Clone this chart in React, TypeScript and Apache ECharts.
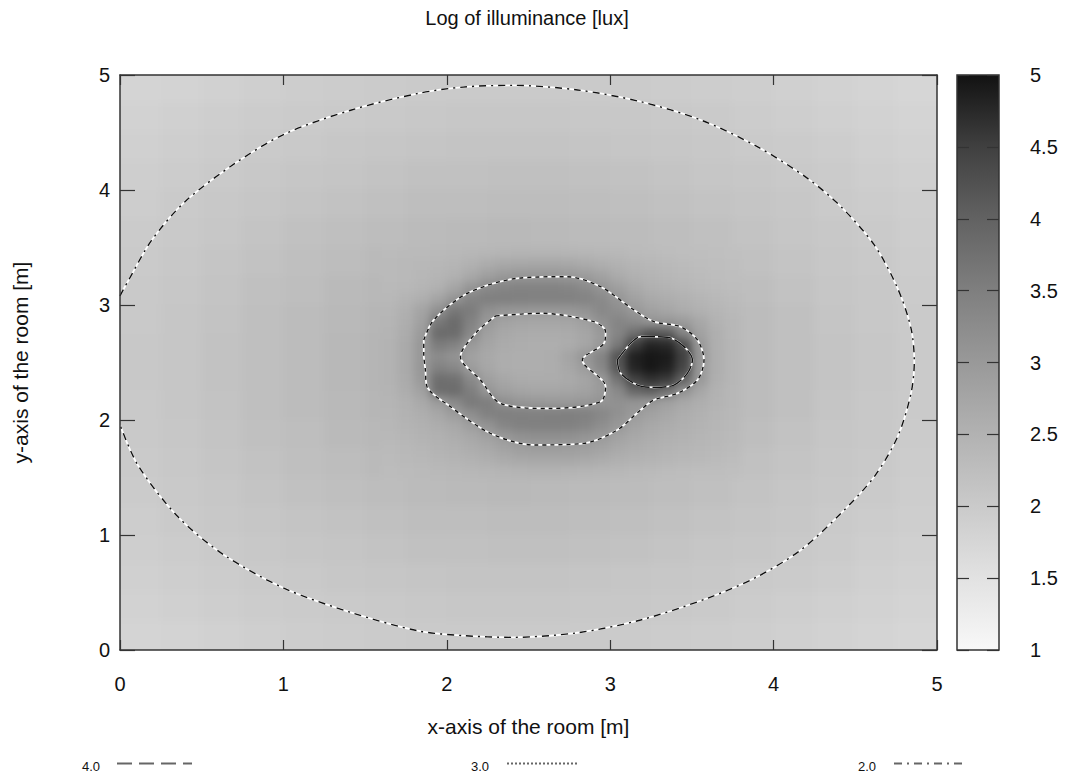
import React, { useEffect, useRef } from "react";
import * as echarts from "echarts";

// ---------- data ----------
// coarse background grid (cell centres, metres)
const bgX = [0.125, 0.375, 0.625, 0.875, 1.125, 1.375, 1.625, 1.875, 2.125, 2.375, 2.625, 2.875, 3.125, 3.375, 3.625, 3.875, 4.125, 4.375, 4.625, 4.875];
const bgY = [4.875, 4.625, 4.375, 4.125, 3.875, 3.625, 3.375, 3.125, 2.875, 2.625, 2.375, 2.125, 1.875, 1.625, 1.375, 1.125, 0.875, 0.625, 0.375, 0.125];
const bgRows = [
  [1.79, 1.82, 1.86, 1.90, 1.93, 1.95, 1.97, 1.99, 2.00, 2.01, 2.00, 2.00, 1.98, 1.96, 1.93, 1.91, 1.87, 1.84, 1.80, 1.76],
  [1.83, 1.87, 1.91, 1.95, 1.98, 2.01, 2.03, 2.05, 2.06, 2.06, 2.06, 2.05, 2.04, 2.02, 1.99, 1.96, 1.92, 1.88, 1.84, 1.80],
  [1.87, 1.91, 1.96, 2.00, 2.03, 2.06, 2.09, 2.11, 2.12, 2.13, 2.12, 2.11, 2.09, 2.07, 2.04, 2.01, 1.97, 1.93, 1.88, 1.84],
  [1.91, 1.95, 2.00, 2.04, 2.08, 2.11, 2.15, 2.18, 2.19, 2.20, 2.20, 2.18, 2.16, 2.13, 2.09, 2.06, 2.02, 1.97, 1.92, 1.87],
  [1.94, 1.99, 2.04, 2.08, 2.13, 2.17, 2.21, 2.24, 2.26, 2.27, 2.27, 2.25, 2.22, 2.19, 2.15, 2.10, 2.06, 2.01, 1.96, 1.91],
  [1.97, 2.02, 2.07, 2.12, 2.18, 2.23, 2.28, 2.31, 2.34, 2.35, 2.34, 2.32, 2.29, 2.25, 2.20, 2.14, 2.09, 2.04, 1.99, 1.93],
  [2.00, 2.05, 2.10, 2.16, 2.22, 2.28, 2.33, 2.38, 2.41, 2.42, 2.41, 2.39, 2.35, 2.30, 2.25, 2.19, 2.12, 2.07, 2.02, 1.96],
  [2.02, 2.07, 2.13, 2.20, 2.26, 2.33, 2.38, 2.43, 2.47, 2.48, 2.48, 2.45, 2.40, 2.35, 2.29, 2.25, 2.17, 2.09, 2.04, 1.98],
  [2.03, 2.08, 2.15, 2.22, 2.29, 2.36, 2.42, 2.48, 2.51, 2.53, 2.52, 2.49, 2.44, 2.38, 2.33, 2.29, 2.20, 2.11, 2.05, 1.99],
  [2.04, 2.09, 2.16, 2.23, 2.30, 2.37, 2.44, 2.50, 2.53, 2.55, 2.54, 2.51, 2.46, 2.40, 2.35, 2.30, 2.21, 2.12, 2.06, 2.00],
  [2.04, 2.09, 2.16, 2.23, 2.30, 2.37, 2.44, 2.50, 2.53, 2.55, 2.54, 2.51, 2.46, 2.40, 2.35, 2.30, 2.21, 2.12, 2.06, 2.00],
  [2.03, 2.08, 2.15, 2.22, 2.29, 2.36, 2.42, 2.48, 2.51, 2.53, 2.52, 2.49, 2.44, 2.38, 2.33, 2.29, 2.20, 2.11, 2.05, 1.99],
  [2.02, 2.07, 2.13, 2.20, 2.26, 2.33, 2.38, 2.43, 2.47, 2.48, 2.48, 2.45, 2.40, 2.35, 2.29, 2.25, 2.17, 2.09, 2.04, 1.98],
  [2.00, 2.05, 2.10, 2.16, 2.22, 2.28, 2.33, 2.38, 2.41, 2.42, 2.41, 2.39, 2.35, 2.30, 2.25, 2.19, 2.12, 2.07, 2.02, 1.96],
  [1.97, 2.02, 2.07, 2.12, 2.18, 2.23, 2.28, 2.31, 2.34, 2.35, 2.34, 2.32, 2.29, 2.25, 2.20, 2.14, 2.09, 2.04, 1.99, 1.93],
  [1.94, 1.99, 2.04, 2.08, 2.13, 2.17, 2.21, 2.24, 2.26, 2.27, 2.27, 2.25, 2.22, 2.19, 2.15, 2.10, 2.06, 2.01, 1.96, 1.91],
  [1.91, 1.95, 2.00, 2.04, 2.08, 2.11, 2.15, 2.18, 2.19, 2.20, 2.20, 2.18, 2.16, 2.13, 2.09, 2.06, 2.02, 1.97, 1.92, 1.87],
  [1.87, 1.91, 1.96, 2.00, 2.03, 2.06, 2.09, 2.11, 2.12, 2.13, 2.12, 2.11, 2.09, 2.07, 2.04, 2.01, 1.97, 1.93, 1.88, 1.84],
  [1.83, 1.87, 1.91, 1.95, 1.98, 2.01, 2.03, 2.05, 2.06, 2.06, 2.06, 2.05, 2.04, 2.02, 1.99, 1.96, 1.92, 1.88, 1.84, 1.80],
  [1.79, 1.82, 1.86, 1.90, 1.93, 1.95, 1.97, 1.99, 2.00, 2.01, 2.00, 2.00, 1.98, 1.96, 1.93, 1.91, 1.87, 1.84, 1.80, 1.76],
];

// fine grid around the ring and the lamp (cell centres, metres)
const fineX = [1.65, 1.75, 1.85, 1.95, 2.05, 2.15, 2.25, 2.35, 2.45, 2.55, 2.65, 2.75, 2.85, 2.95, 3.05, 3.15, 3.25, 3.35, 3.45, 3.55, 3.65, 3.75];
const fineY = [3.45, 3.35, 3.25, 3.15, 3.05, 2.95, 2.85, 2.75, 2.65, 2.55, 2.45, 2.35, 2.25, 2.15, 2.05, 1.95, 1.85, 1.75, 1.65, 1.55];
const fineRows = [
  [2.31, 2.33, 2.34, 2.36, 2.38, 2.40, 2.42, 2.44, 2.45, 2.45, 2.45, 2.44, 2.42, 2.40, 2.37, 2.34, 2.31, 2.28, 2.26, 2.24, 2.22, 2.20],
  [2.33, 2.35, 2.37, 2.40, 2.44, 2.52, 2.62, 2.70, 2.73, 2.74, 2.74, 2.72, 2.66, 2.58, 2.50, 2.44, 2.39, 2.35, 2.31, 2.28, 2.25, 2.22],
  [2.34, 2.36, 2.39, 2.43, 2.52, 2.68, 2.88, 3.00, 3.05, 3.06, 3.05, 3.02, 2.94, 2.82, 2.64, 2.52, 2.45, 2.40, 2.35, 2.31, 2.27, 2.24],
  [2.35, 2.38, 2.43, 2.53, 2.75, 3.05, 3.28, 3.38, 3.42, 3.42, 3.42, 3.38, 3.28, 3.08, 2.88, 2.68, 2.55, 2.47, 2.41, 2.36, 2.31, 2.27],
  [2.38, 2.45, 2.56, 2.78, 3.08, 3.40, 3.50, 3.50, 3.48, 3.46, 3.46, 3.46, 3.42, 3.28, 3.05, 2.84, 2.68, 2.60, 2.52, 2.44, 2.37, 2.31],
  [2.42, 2.55, 2.78, 3.15, 3.62, 3.55, 3.20, 3.08, 3.04, 3.02, 3.02, 3.04, 3.12, 3.32, 3.22, 3.02, 2.85, 2.74, 2.63, 2.52, 2.43, 2.36],
  [2.44, 2.58, 2.86, 3.60, 3.85, 3.45, 3.00, 2.82, 2.76, 2.74, 2.74, 2.77, 2.86, 3.15, 3.38, 3.28, 3.10, 3.05, 2.96, 2.72, 2.50, 2.39],
  [2.46, 2.62, 2.96, 3.85, 3.82, 3.30, 2.86, 2.70, 2.64, 2.62, 2.62, 2.64, 2.74, 2.98, 3.38, 3.80, 4.20, 4.10, 3.40, 2.85, 2.56, 2.40],
  [2.47, 2.66, 3.02, 3.55, 3.45, 3.00, 2.76, 2.64, 2.60, 2.58, 2.58, 2.62, 2.74, 3.00, 3.60, 4.50, 4.80, 4.75, 4.30, 3.00, 2.57, 2.41],
  [2.48, 2.67, 3.02, 3.25, 3.10, 2.84, 2.68, 2.60, 2.58, 2.58, 2.60, 2.78, 3.05, 3.40, 4.20, 4.85, 4.95, 4.90, 4.50, 3.05, 2.58, 2.42],
  [2.48, 2.67, 3.04, 3.45, 3.32, 2.94, 2.72, 2.60, 2.58, 2.58, 2.60, 2.72, 2.95, 3.32, 4.15, 4.80, 4.95, 4.85, 4.40, 3.02, 2.58, 2.42],
  [2.47, 2.65, 2.98, 3.80, 3.75, 3.30, 2.88, 2.72, 2.64, 2.62, 2.62, 2.66, 2.76, 3.00, 3.70, 4.45, 4.65, 4.55, 4.00, 3.00, 2.56, 2.41],
  [2.45, 2.60, 2.84, 3.80, 3.82, 3.50, 3.06, 2.86, 2.78, 2.75, 2.75, 2.77, 2.82, 2.98, 3.30, 3.90, 4.05, 3.75, 3.15, 2.74, 2.51, 2.39],
  [2.43, 2.53, 2.68, 2.96, 3.28, 3.58, 3.52, 3.20, 3.06, 3.02, 3.00, 3.00, 3.04, 3.10, 3.15, 3.10, 3.02, 2.86, 2.70, 2.58, 2.48, 2.39],
  [2.41, 2.49, 2.58, 2.72, 2.94, 3.22, 3.46, 3.50, 3.48, 3.46, 3.48, 3.50, 3.46, 3.34, 3.16, 2.98, 2.84, 2.72, 2.60, 2.52, 2.44, 2.37],
  [2.39, 2.45, 2.52, 2.60, 2.70, 2.90, 3.12, 3.36, 3.46, 3.48, 3.48, 3.46, 3.38, 3.22, 3.02, 2.82, 2.70, 2.62, 2.54, 2.47, 2.41, 2.36],
  [2.37, 2.42, 2.47, 2.53, 2.60, 2.70, 2.84, 3.00, 3.14, 3.18, 3.18, 3.16, 3.08, 2.98, 2.82, 2.70, 2.62, 2.55, 2.49, 2.44, 2.39, 2.34],
  [2.34, 2.38, 2.42, 2.47, 2.53, 2.60, 2.68, 2.80, 2.90, 2.94, 2.94, 2.92, 2.88, 2.80, 2.68, 2.60, 2.54, 2.48, 2.43, 2.39, 2.35, 2.31],
  [2.32, 2.35, 2.38, 2.42, 2.46, 2.51, 2.57, 2.64, 2.70, 2.73, 2.73, 2.72, 2.68, 2.62, 2.55, 2.50, 2.46, 2.42, 2.38, 2.35, 2.31, 2.28],
  [2.30, 2.32, 2.34, 2.36, 2.38, 2.40, 2.42, 2.44, 2.46, 2.47, 2.47, 2.46, 2.44, 2.42, 2.39, 2.36, 2.33, 2.30, 2.28, 2.26, 2.24, 2.22],
];

// contour lines (x, y in metres)
const contour2 = [
  [0, 3.08], [0.049, 3.207], [0.192, 3.559], [0.396, 3.896], [0.703, 4.231], [1.009, 4.488], [1.417, 4.696],
  [1.826, 4.84], [2.1, 4.895], [2.4, 4.91], [2.8, 4.87], [3.186, 4.768], [3.554, 4.609], [3.9, 4.377],
  [4.208, 4.101], [4.412, 3.855], [4.616, 3.522], [4.759, 3.145], [4.841, 2.797], [4.861, 2.507],
  [4.841, 2.232], [4.759, 1.855], [4.616, 1.507], [4.412, 1.188], [4.167, 0.87], [3.9, 0.637],
  [3.595, 0.45], [3.186, 0.261], [2.8, 0.15], [2.4, 0.11], [2.1, 0.125], [1.826, 0.166], [1.417, 0.325],
  [1.009, 0.534], [0.641, 0.822], [0.355, 1.158], [0.11, 1.606], [0, 1.958],
];
const contour3Outer = [
  [1.859, 2.696], [1.92, 2.87], [2.124, 3.1], [2.431, 3.232], [2.737, 3.246], [2.941, 3.159], [3.145, 2.957],
  [3.268, 2.855], [3.431, 2.811], [3.534, 2.696], [3.574, 2.522], [3.534, 2.348], [3.411, 2.232],
  [3.268, 2.174], [3.186, 2.087], [3.043, 1.913], [2.839, 1.797], [2.533, 1.783], [2.267, 1.884],
  [2.022, 2.116], [1.879, 2.29], [1.869, 2.435], [1.859, 2.57], [1.859, 2.696],
];
const contour3Inner = [
  [2.3, 2.905], [2.574, 2.928], [2.9, 2.855], [2.972, 2.768], [2.962, 2.667], [2.829, 2.52],
  [2.972, 2.29], [2.941, 2.159], [2.635, 2.1], [2.328, 2.145], [2.206, 2.348], [2.083, 2.55],
  [2.18, 2.76], [2.3, 2.905],
];
const contour4 = [
  [3.043, 2.522], [3.125, 2.667], [3.186, 2.725], [3.35, 2.72], [3.452, 2.638], [3.503, 2.522],
  [3.472, 2.406], [3.39, 2.304], [3.268, 2.284], [3.166, 2.304], [3.064, 2.406], [3.043, 2.522],
];
const contourLevels = ["4.0", "3.0", "2.0"];

// ---------- presentation ----------
const FONT = 'Arial, "Liberation Sans", sans-serif';
const palette = ["#f8f8f8", "#e2e2e2", "#cacaca", "#b2b2b2", "#999999", "#7f7f7f", "#626262", "#404040", "#121212"];
const GRID = { left: 120, top: 75, width: 817, height: 575 };
const AX_MIN = 0;
const AX_MAX = 5;

function cells(xs: number[], ys: number[], rows: number[][]) {
  const out: number[][] = [];
  rows.forEach((row, j) => row.forEach((v, i) => out.push([xs[i], ys[j], v])));
  return out;
}

// each cell is a rect; cells on the frame edge are stretched a little beyond it
// so that the (clipped) smoothing does not fade at the border
function cellRenderer(hw: number, hh: number) {
  return (params: any, api: any) => {
    const x = api.value(0);
    const y = api.value(1);
    const p1 = api.coord([x - hw, y + hh]);
    const p2 = api.coord([x + hw, y - hh]);
    let x1 = p1[0] - 0.4, y1 = p1[1] - 0.4, x2 = p2[0] + 0.4, y2 = p2[1] + 0.4;
    const pad = 20;
    if (x - hw <= AX_MIN + 1e-6) x1 -= pad;
    if (x + hw >= AX_MAX - 1e-6) x2 += pad;
    if (y + hh >= AX_MAX - 1e-6) y1 -= pad;
    if (y - hh <= AX_MIN + 1e-6) y2 += pad;
    return {
      type: "rect",
      shape: { x: x1, y: y1, width: x2 - x1, height: y2 - y1 },
      style: { fill: api.visual("color"), stroke: null },
    };
  };
}

function contourPair(data: number[][], dash: number[] | "solid", whiteW: number, blackW: number) {
  return [
    {
      type: "line", xAxisIndex: 0, yAxisIndex: 0, data, showSymbol: false, symbol: "none", smooth: 0.3,
      lineStyle: { color: "#ffffff", width: whiteW, type: "solid" }, silent: true, z: 5,
    },
    {
      type: "line", xAxisIndex: 0, yAxisIndex: 0, data, showSymbol: false, symbol: "none", smooth: 0.3,
      lineStyle: { color: "#111111", width: blackW, type: dash }, silent: true, z: 6,
    },
  ];
}

export default function App() {
  const heatRef = useRef<HTMLDivElement>(null);
  const mainRef = useRef<HTMLDivElement>(null);
  useEffect(() => {
    if (!heatRef.current || !mainRef.current) return;
    const heat = echarts.init(heatRef.current, undefined, { renderer: "svg" });
    const chart = echarts.init(mainRef.current, undefined, { renderer: "svg" });
    const axisCol = "#333333";

    heat.setOption({
      animation: false,
      grid: [GRID],
      xAxis: [{ type: "value", min: AX_MIN, max: AX_MAX, show: false }],
      yAxis: [{ type: "value", min: AX_MIN, max: AX_MAX, show: false }],
      visualMap: {
        type: "continuous", show: false, min: 1, max: 5, dimension: 2, seriesIndex: [0, 1],
        inRange: { color: palette },
      },
      series: [
        {
          type: "custom", clip: false, silent: true,
          dimensions: ["x", "y", "v"], encode: { x: 0, y: 1 },
          renderItem: cellRenderer(0.125, 0.125),
          data: cells(bgX, bgY, bgRows),
        },
        {
          type: "custom", clip: false, silent: true,
          dimensions: ["x", "y", "v"], encode: { x: 0, y: 1 },
          renderItem: cellRenderer(0.05, 0.05),
          data: cells(fineX, fineY, fineRows),
        },
      ],
    });

    const legendLayout = [
      { tx: 82, x1: 117, x2: 192, dash: [15, 7] },
      { tx: 471, x1: 507, x2: 577, dash: [2, 2] },
      { tx: 858, x1: 894, x2: 966, dash: [8, 5, 2, 5] },
    ];
    const legendGraphics: any[] = [];
    contourLevels.forEach((lab, i) => {
      const L = legendLayout[i];
      legendGraphics.push({
        type: "text", x: L.tx, y: 766,
        style: { text: lab, fontSize: 13, fontFamily: FONT, fill: "#111", textVerticalAlign: "middle" },
      });
      legendGraphics.push({
        type: "line", shape: { x1: L.x1, y1: 763.5, x2: L.x2, y2: 763.5 },
        style: { stroke: "#666", lineWidth: 2, lineDash: L.dash },
      });
    });

    chart.setOption({
      animation: false,
      backgroundColor: "transparent",
      title: {
        text: "Log of illuminance [lux]",
        left: 522, top: 3, textAlign: "center",
        textStyle: { fontSize: 20, fontWeight: "normal", color: "#111", fontFamily: FONT },
      },
      grid: [
        GRID,
        { left: 957, top: 75, width: 42, height: 575 },
      ],
      xAxis: [
        {
          gridIndex: 0, type: "value", min: AX_MIN, max: AX_MAX, interval: 1, position: "bottom", z: 10,
          axisLine: { show: true, onZero: false, lineStyle: { color: axisCol, width: 1.5 } },
          axisTick: { show: true, inside: true, length: 10, lineStyle: { color: axisCol, width: 1.2 } },
          axisLabel: { fontSize: 20, color: "#111", margin: 24, fontFamily: FONT },
          splitLine: { show: false },
          name: "x-axis of the room [m]", nameLocation: "middle", nameGap: 66,
          nameTextStyle: { fontSize: 21, color: "#111", fontFamily: FONT },
        },
        {
          gridIndex: 0, type: "value", min: AX_MIN, max: AX_MAX, interval: 1, position: "top", z: 10,
          axisLine: { show: true, onZero: false, lineStyle: { color: axisCol, width: 1.5 } },
          axisTick: { show: true, inside: true, length: 10, lineStyle: { color: axisCol, width: 1.2 } },
          axisLabel: { show: false }, splitLine: { show: false },
        },
        { gridIndex: 1, type: "value", min: 0, max: 1, show: false },
      ],
      yAxis: [
        {
          gridIndex: 0, type: "value", min: AX_MIN, max: AX_MAX, interval: 1, position: "left", z: 10,
          axisLine: { show: true, onZero: false, lineStyle: { color: axisCol, width: 1.5 } },
          axisTick: { show: true, inside: true, length: 15, lineStyle: { color: axisCol, width: 1.2 } },
          axisLabel: { fontSize: 20, color: "#111", margin: 10, fontFamily: FONT },
          splitLine: { show: false },
          name: "y-axis of the room [m]", nameLocation: "middle", nameGap: 89,
          nameTextStyle: { fontSize: 21, color: "#111", fontFamily: FONT },
        },
        {
          gridIndex: 0, type: "value", min: AX_MIN, max: AX_MAX, interval: 1, position: "right", z: 10,
          axisLine: { show: true, onZero: false, lineStyle: { color: axisCol, width: 1.5 } },
          axisTick: { show: true, inside: true, length: 15, lineStyle: { color: axisCol, width: 1.2 } },
          axisLabel: { show: false }, splitLine: { show: false },
        },
        {
          gridIndex: 1, type: "value", min: 1, max: 5, interval: 0.5, position: "left", z: 10,
          axisLine: { show: false },
          axisTick: { show: true, inside: true, length: 12, lineStyle: { color: axisCol, width: 1.2 } },
          axisLabel: { show: false }, splitLine: { show: false },
        },
        {
          gridIndex: 1, type: "value", min: 1, max: 5, interval: 0.5, position: "right", z: 10,
          axisLine: { show: false },
          axisTick: { show: true, inside: true, length: 12, lineStyle: { color: axisCol, width: 1.2 } },
          axisLabel: { fontSize: 20, color: "#111", margin: 31, fontFamily: FONT },
          splitLine: { show: false },
        },
      ],
      series: [
        ...contourPair(contour2, [7, 5, 2, 5], 1.8, 1.4),
        ...contourPair(contour3Outer, [4, 4], 1.8, 1.4),
        ...contourPair(contour3Inner, [4, 4], 1.8, 1.4),
        ...contourPair(contour4, [14, 3], 1.8, 1.4),
        {
          type: "custom", xAxisIndex: 2, yAxisIndex: 2, silent: true,
          data: [[0, 1, 5]],
          renderItem: (params: any, api: any) => {
            const p1 = api.coord([0, api.value(2)]);
            const p2 = api.coord([1, api.value(1)]);
            return {
              type: "rect",
              shape: { x: p1[0], y: p1[1], width: p2[0] - p1[0], height: p2[1] - p1[1] },
              style: {
                fill: new echarts.graphic.LinearGradient(0, 0, 0, 1,
                  palette.map((c, i) => ({ offset: i / (palette.length - 1), color: palette[palette.length - 1 - i] }))),
                stroke: axisCol, lineWidth: 1.5,
              },
            };
          },
          z: 3,
        },
      ],
      graphic: legendGraphics,
    });
    return () => {
      heat.dispose();
      chart.dispose();
    };
  }, []);
  const full: React.CSSProperties = { position: "absolute", left: 0, top: 0, width: "1066px", height: "778px" };
  return (
    <div style={{ ...full, background: "#ffffff" }}>
      <div
        ref={heatRef}
        style={{ ...full, filter: "blur(4px)", clipPath: "inset(75px 129px 128px 120px)" }}
      />
      <div ref={mainRef} style={full} />
    </div>
  );
}
